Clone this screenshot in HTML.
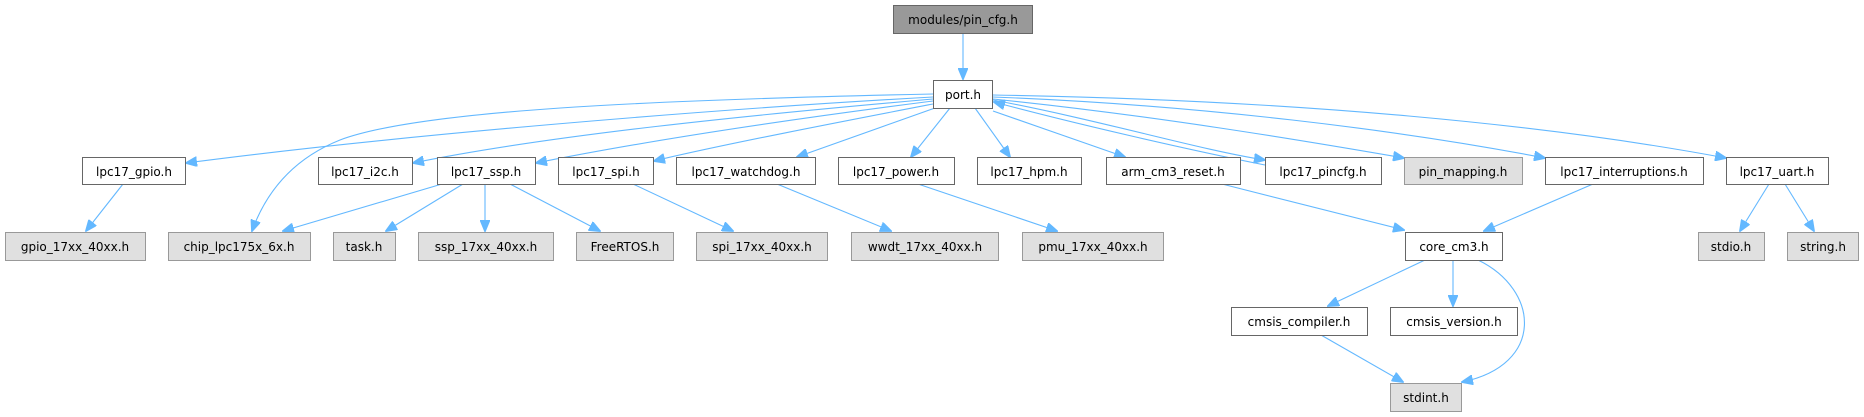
<!DOCTYPE html>
<html><head><meta charset="utf-8"><style>
html,body{margin:0;padding:0;background:#fff;}
svg{display:block;}
text{font-family:"DejaVu Sans","Liberation Sans",sans-serif;font-size:12px;fill:#000;text-anchor:middle;}
.w{fill:#fff;stroke:#666;stroke-width:1;}
.g{fill:#e0e0e0;stroke:#999;stroke-width:1;}
.r{fill:#999;stroke:#666;stroke-width:1;}
.e{fill:none;stroke:#63b8ff;stroke-width:1.1;}
</style></head><body>
<svg width="1864" height="417" viewBox="0 0 1864 417" xmlns="http://www.w3.org/2000/svg">
<defs><marker id="a" markerWidth="12" markerHeight="10" refX="11" refY="5" orient="auto" markerUnits="userSpaceOnUse"><path d="M0,0 L12,5 L0,10 z" fill="#63b8ff" stroke="#63b8ff"/></marker></defs>
<g class="e" marker-end="url(#a)">
<path d="M963,33 L963,79"/>
<path d="M933,97 C700,110 400,135 186,163"/>
<path d="M933,94 C650,100 420,110 340,140 C290,160 265,195 252,231"/>
<path d="M933,99 C750,115 550,135 413,163"/>
<path d="M933,101 C800,118 650,140 536,163"/>
<path d="M933,104 C850,120 720,145 654,161"/>
<path d="M935,108 L797,157"/>
<path d="M950,108 L911,157"/>
<path d="M975,108 L1010,157"/>
<path d="M993,111 L1125,157"/>
<path d="M993,100 C1100,120 1200,150 1265,160"/>
<path d="M1265,165 C1190,150 1080,125 994,102"/>
<path d="M993,99 C1150,115 1300,140 1404,158"/>
<path d="M993,97 C1200,105 1400,130 1545,158"/>
<path d="M993,95 C1300,100 1550,125 1726,158"/>
<path d="M123,184 L86,231"/>
<path d="M442,184 L283,231"/>
<path d="M463,184 L386,231"/>
<path d="M485,184 L485,231"/>
<path d="M510,184 L600,231"/>
<path d="M633,184 L733,231"/>
<path d="M777,184 L891,231"/>
<path d="M918,184 L1057,231"/>
<path d="M1222,184 L1404,230"/>
<path d="M1593,184 L1484,231"/>
<path d="M1425,260 L1328,306"/>
<path d="M1453,260 L1453,306"/>
<path d="M1478,260 C1540,290 1545,365 1462,382"/>
<path d="M1321,335 L1403,382"/>
<path d="M1769,184 L1740,231"/>
<path d="M1785,184 L1814,231"/>
</g>
<rect class="r" x="893.5" y="5.5" width="139" height="28"/><text x="963" y="24">modules/pin_cfg.h</text>
<rect class="w" x="933.5" y="80.5" width="59" height="28"/><text x="963" y="99">port.h</text>
<rect class="w" x="82.5" y="157.5" width="103" height="27"/><text x="134" y="176">lpc17_gpio.h</text>
<rect class="w" x="318.5" y="157.5" width="94" height="27"/><text x="365" y="176">lpc17_i2c.h</text>
<rect class="w" x="437.5" y="157.5" width="98" height="27"/><text x="486" y="176">lpc17_ssp.h</text>
<rect class="w" x="558.5" y="157.5" width="95" height="27"/><text x="606" y="176">lpc17_spi.h</text>
<rect class="w" x="676.5" y="157.5" width="139" height="27"/><text x="746" y="176">lpc17_watchdog.h</text>
<rect class="w" x="838.5" y="157.5" width="116" height="27"/><text x="896" y="176">lpc17_power.h</text>
<rect class="w" x="977.5" y="157.5" width="104" height="27"/><text x="1029" y="176">lpc17_hpm.h</text>
<rect class="w" x="1106.5" y="157.5" width="134" height="27"/><text x="1173" y="176">arm_cm3_reset.h</text>
<rect class="w" x="1265.5" y="157.5" width="116" height="27"/><text x="1323" y="176">lpc17_pincfg.h</text>
<rect class="g" x="1404.5" y="157.5" width="118" height="27"/><text x="1463" y="176">pin_mapping.h</text>
<rect class="w" x="1545.5" y="157.5" width="158" height="27"/><text x="1624" y="176">lpc17_interruptions.h</text>
<rect class="w" x="1726.5" y="157.5" width="102" height="27"/><text x="1777" y="176">lpc17_uart.h</text>
<rect class="g" x="5.5" y="232.5" width="140" height="28"/><text x="75" y="251">gpio_17xx_40xx.h</text>
<rect class="g" x="168.5" y="232.5" width="142" height="28"/><text x="239" y="251">chip_lpc175x_6x.h</text>
<rect class="g" x="333.5" y="232.5" width="62" height="28"/><text x="364" y="251">task.h</text>
<rect class="g" x="418.5" y="232.5" width="135" height="28"/><text x="486" y="251">ssp_17xx_40xx.h</text>
<rect class="g" x="576.5" y="232.5" width="97" height="28"/><text x="625" y="251">FreeRTOS.h</text>
<rect class="g" x="696.5" y="232.5" width="131" height="28"/><text x="762" y="251">spi_17xx_40xx.h</text>
<rect class="g" x="851.5" y="232.5" width="147" height="28"/><text x="925" y="251">wwdt_17xx_40xx.h</text>
<rect class="g" x="1022.5" y="232.5" width="141" height="28"/><text x="1093" y="251">pmu_17xx_40xx.h</text>
<rect class="w" x="1405.5" y="232.5" width="97" height="28"/><text x="1454" y="251">core_cm3.h</text>
<rect class="g" x="1698.5" y="232.5" width="66" height="28"/><text x="1731" y="251">stdio.h</text>
<rect class="g" x="1787.5" y="232.5" width="71" height="28"/><text x="1823" y="251">string.h</text>
<rect class="w" x="1231.5" y="307.5" width="136" height="28"/><text x="1299" y="326">cmsis_compiler.h</text>
<rect class="w" x="1390.5" y="307.5" width="127" height="28"/><text x="1454" y="326">cmsis_version.h</text>
<rect class="g" x="1390.5" y="383.5" width="71" height="28"/><text x="1426" y="402">stdint.h</text>
</svg>
</body></html>
